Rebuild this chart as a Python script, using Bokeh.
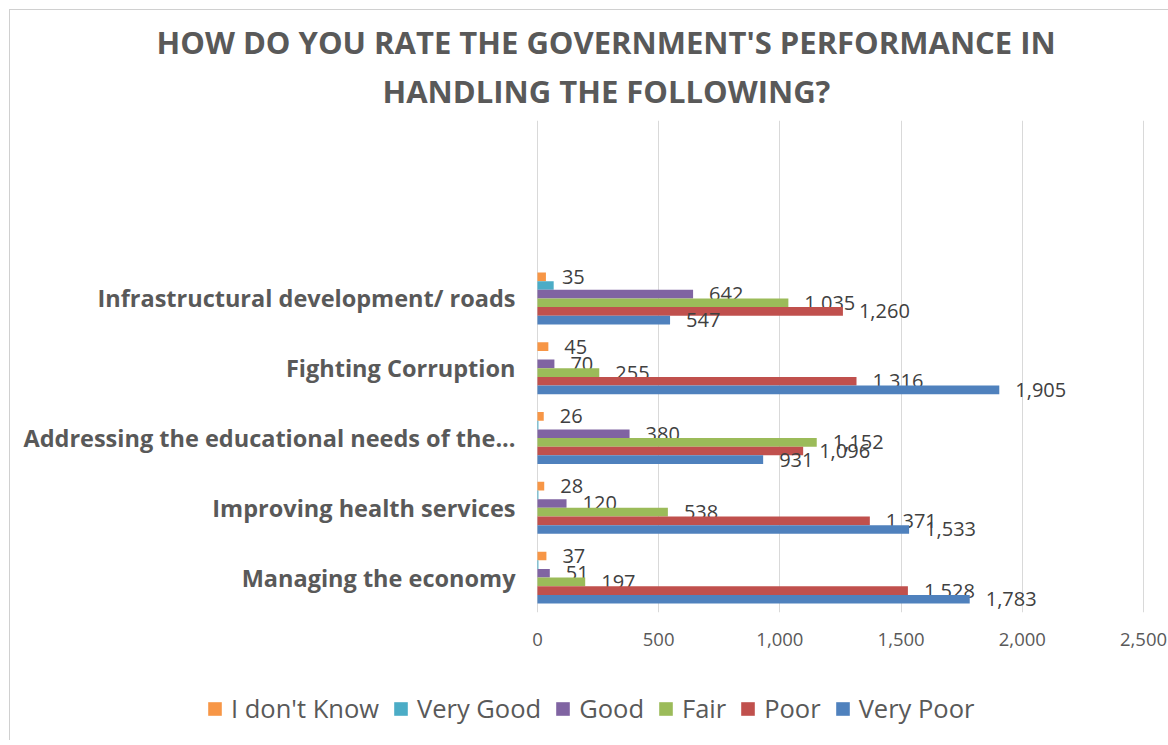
from bokeh.plotting import figure
from bokeh.layouts import column
from bokeh.models import (ColumnDataSource, FixedTicker, NumeralTickFormatter, Range1d,
                          Legend, LegendItem, Title)
from bokeh.core.properties import value
from bokeh.embed import file_html
from bokeh.resources import INLINE

# ---------------- data ----------------
categories = ["Infrastructural development/ roads", "Fighting Corruption",
              "Addressing the educational needs of the...", "Improving health services",
              "Managing the economy"]
series_names = ["I don't Know", "Very Good", "Good", "Fair", "Poor", "Very Poor"]
dont_know = [35, 45, 26, 28, 37]
very_good = [67, 0, 4, 4, 4]
good = [642, 70, 380, 120, 51]
fair = [1035, 255, 1152, 538, 197]
poor = [1260, 1316, 1096, 1371, 1528]
very_poor = [547, 1905, 931, 1533, 1783]
show_labels = [True, False, True, True, True, True]
x_ticks = [0, 500, 1000, 1500, 2000, 2500]
title_lines = ["HOW DO YOU RATE THE GOVERNMENT'S PERFORMANCE IN", "HANDLING THE FOLLOWING?"]

series_values = [dont_know, very_good, good, fair, poor, very_poor]
colors = ["#F79646", "#4BACC6", "#8064A2", "#9BBB59", "#C0504D", "#4F81BD"]

TXT = "#595959"
FONT = "'Open Sans', sans-serif"

n = len(categories)
cat_pos = [n - 1 - i for i in range(n)]  # top category highest

p = figure(width=1158, height=670, output_backend="svg", toolbar_location=None,
           x_range=Range1d(-8, 2508), y_range=Range1d(-0.5, 6.55),
           min_border_left=525, min_border_right=23, min_border_top=110, min_border_bottom=68)
p.frame_align = False
p.outline_line_color = None
p.background_fill_color = "white"

bar_h = 0.124
sources = []
for i, (name, vals, col) in enumerate(zip(series_names, series_values, colors)):
    off = (2.5 - i) * bar_h
    ys = [c + off for c in cat_pos]
    src = ColumnDataSource(dict(y=ys, right=vals,
                                lab=[f"{v:,}" for v in vals]))
    sources.append(src)
    p.hbar(y="y", right="right", left=0, height=bar_h, source=src,
           fill_color=col, line_color=None)
    if show_labels[i]:
        p.text(x="right", y="y", text="lab", source=src, x_offset=16,
               text_align="left", text_baseline="middle",
               text_font=value(FONT), text_font_size="20px", text_color="#404040")

# axes
p.xaxis.ticker = FixedTicker(ticks=x_ticks)
p.xaxis.formatter = NumeralTickFormatter(format="0,0")
p.xaxis.axis_line_color = None
p.xaxis.major_tick_line_color = None
p.xaxis.minor_tick_line_color = None
p.xaxis.major_tick_out = 0
p.xaxis.major_label_standoff = 20
p.xaxis.major_label_text_font = FONT
p.xaxis.major_label_text_font_size = "18.5px"
p.xaxis.major_label_text_color = TXT

p.yaxis.ticker = FixedTicker(ticks=cat_pos)
p.yaxis.major_label_overrides = {c: lab for c, lab in zip(cat_pos, categories)}
p.yaxis.axis_line_color = None
p.yaxis.major_tick_line_color = None
p.yaxis.minor_tick_line_color = None
p.yaxis.major_tick_out = 0
p.yaxis.major_label_standoff = 20
p.yaxis.major_label_text_font = FONT
p.yaxis.major_label_text_font_size = "23.5px"
p.yaxis.major_label_text_font_style = "bold"
p.yaxis.major_label_text_color = TXT

p.xgrid.grid_line_color = "#d9d9d9"
p.ygrid.grid_line_color = None

# title (two lines, stacked in the "above" panel; later added = further from frame)
t2 = Title(text=title_lines[1], align="left", offset=-153, standoff=14,
           vertical_align="top", text_font=FONT, text_font_size="31px",
           text_font_style="bold", text_color=TXT)
t1 = Title(text=title_lines[0], align="left", offset=-379, standoff=0,
           vertical_align="bottom", text_font=FONT, text_font_size="31px",
           text_font_style="bold", text_color=TXT)
p.add_layout(t2, "above")
p.add_layout(t1, "above")

# legend strip below the chart (same series, drawn off-view; only the legend shows)
lp = figure(width=1158, height=60, output_backend="svg", toolbar_location=None,
            x_range=Range1d(0, 1), y_range=Range1d(1000, 1001),
            min_border=0, x_axis_type=None, y_axis_type=None)
lp.frame_align = False
lp.outline_line_color = None
lp.grid.visible = False
items = []
for name, col, src in zip(series_names, colors, sources):
    r = lp.hbar(y="y", right="right", left=0, height=bar_h, source=src,
                fill_color=col, line_color=None)
    items.append(LegendItem(label=name, renderers=[r]))
legend = Legend(items=items, orientation="horizontal", location=(196, 15),
                glyph_width=17, glyph_height=17, label_standoff=8, spacing=13,
                padding=0, margin=0, border_line_color=None, background_fill_alpha=0,
                label_text_font=FONT, label_text_font_size="25.5px", label_text_color=TXT,
                label_height=20)
lp.add_layout(legend, "center")

layout = column(p, lp)
layout.styles = {"margin-left": "9px", "margin-top": "9px",
                 "border-left": "1px solid #d0d0d0", "border-top": "1px solid #d0d0d0"}

open("out.html", "w").write(file_html(layout, INLINE))
